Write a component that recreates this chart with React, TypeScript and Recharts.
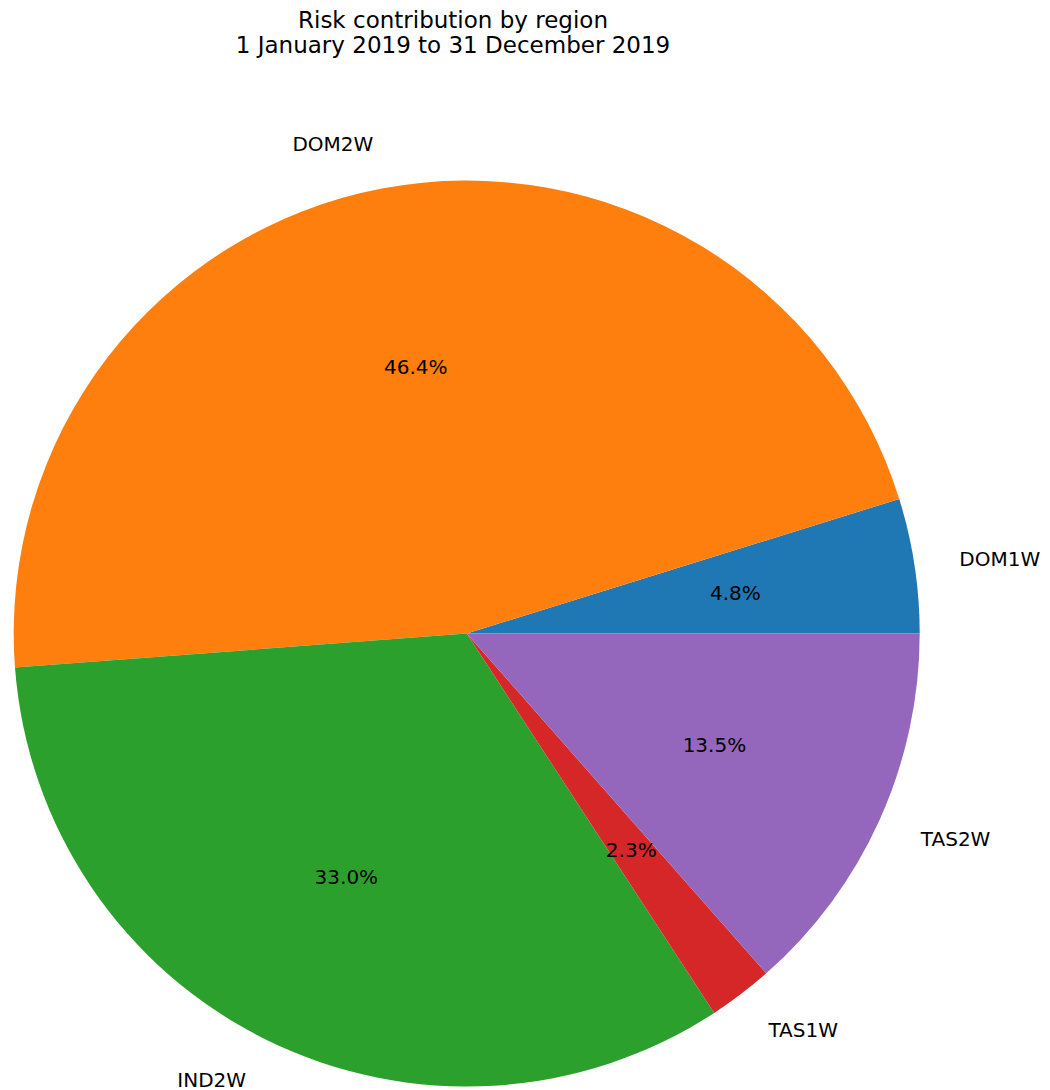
import { PieChart, Pie, Cell } from 'recharts'

const regions = ['DOM1W', 'DOM2W', 'IND2W', 'TAS1W', 'TAS2W']
const shares = [4.8, 46.4, 33.0, 2.3, 13.5]
const colors = ['#1f77b4', '#ff7f0e', '#2ca02c', '#d62728', '#9467bd']
const titleLines = ['Risk contribution by region', '1 January 2019 to 31 December 2019']

const data = regions.map((name, i) => ({ name, value: shares[i] }))

const RADIAN = Math.PI / 180
const font = '"DejaVu Sans", sans-serif'

function renderLabel(props: any) {
  const { cx, cy, midAngle, outerRadius, name, percent } = props
  const cos = Math.cos(-midAngle * RADIAN)
  const sin = Math.sin(-midAngle * RADIAN)
  const lx = cx + outerRadius * 1.1 * cos
  const ly = cy + outerRadius * 1.1 * sin
  const px = cx + outerRadius * 0.6 * cos
  const py = cy + outerRadius * 0.6 * sin
  return (
    <g>
      <text x={lx} y={ly} fill="#000" fontSize={20} fontFamily={font}
        textAnchor={cos >= 0 ? 'start' : 'end'} dominantBaseline="central">
        {name}
      </text>
      <text x={px} y={py} fill="#000" fontSize={20} fontFamily={font}
        textAnchor="middle" dominantBaseline="central">
        {(percent * 100).toFixed(1)}%
      </text>
    </g>
  )
}

export default function App() {
  return (
    <div style={{ position: 'absolute', left: 0, top: 0, width: 1050, height: 1090, background: '#fff' }}>
      <div style={{
        position: 'absolute', left: 0, top: 8, width: 906, textAlign: 'center',
        fontFamily: font, fontSize: 23, lineHeight: '25px', color: '#000',
      }}>
        {titleLines.map(t => <div key={t}>{t}</div>)}
      </div>
      <PieChart width={1050} height={1090} margin={{ top: 0, right: 0, bottom: 0, left: 0 }}
        style={{ position: 'absolute', left: 0, top: 0 }}>
        <Pie
          data={data}
          dataKey="value"
          nameKey="name"
          cx={466.7}
          cy={633.5}
          outerRadius={453}
          startAngle={0}
          endAngle={360}
          stroke="none"
          label={renderLabel}
          labelLine={false}
          isAnimationActive={false}
        >
          {data.map((d, i) => <Cell key={d.name} fill={colors[i]} />)}
        </Pie>
      </PieChart>
    </div>
  )
}
